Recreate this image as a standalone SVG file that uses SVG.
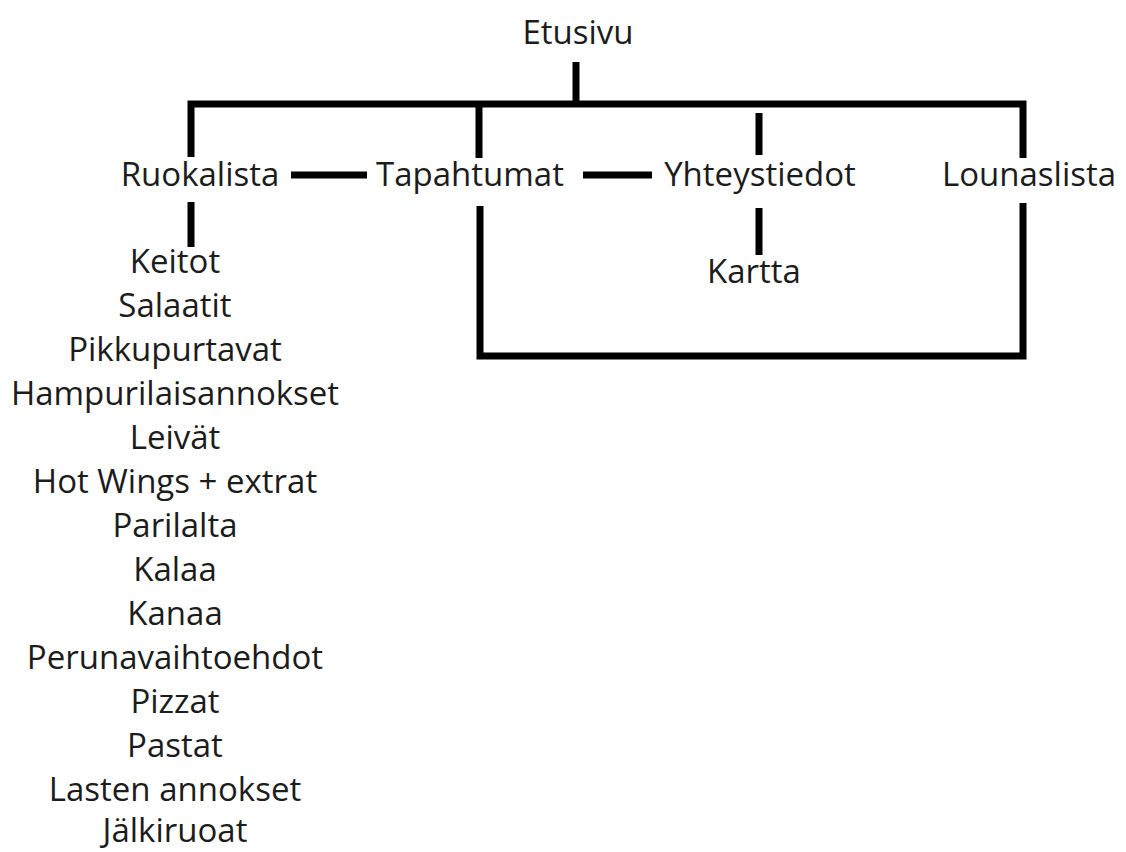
<svg xmlns="http://www.w3.org/2000/svg" width="1126" height="852" viewBox="0 0 1126 852">
<style>
text{font-family:"Open Sans","Noto Sans","Liberation Sans",sans-serif;font-size:33px;fill:#1c1c1c;text-anchor:middle}
.c{stroke:#000;stroke-width:7;fill:none;stroke-linecap:butt;stroke-linejoin:miter}
</style>
<rect width="1126" height="852" fill="#fff"/>
<g id="connectors">
<path class="c" d="M576 62V104"/>
<path class="c" d="M191 157V104H1023V158"/>
<path class="c" d="M479 104V158"/>
<path class="c" d="M759 113V155"/>
<path class="c" d="M291 175H367"/>
<path class="c" d="M583 175H652"/>
<path class="c" d="M191 202V247"/>
<path class="c" d="M759 208V255"/>
<path class="c" d="M480 206V356H1023V203"/>
</g>
<g id="etusivu"><text x="578" y="44">Etusivu</text></g>
<g id="ruokalista"><text x="200" y="186">Ruokalista</text></g>
<g id="tapahtumat"><text x="470" y="186">Tapahtumat</text></g>
<g id="yhteystiedot"><text x="760" y="186">Yhteystiedot</text></g>
<g id="lounaslista"><text x="1029" y="186">Lounaslista</text></g>
<g id="kartta"><text x="754" y="283">Kartta</text></g>
<g id="menu-list">
<text x="175" y="273">Keitot</text>
<text x="175" y="317">Salaatit</text>
<text x="175" y="361">Pikkupurtavat</text>
<text x="175" y="405">Hampurilaisannokset</text>
<text x="175" y="449">Leivät</text>
<text x="175" y="493">Hot Wings + extrat</text>
<text x="175" y="537">Parilalta</text>
<text x="175" y="581">Kalaa</text>
<text x="175" y="625">Kanaa</text>
<text x="175" y="669">Perunavaihtoehdot</text>
<text x="175" y="713">Pizzat</text>
<text x="175" y="757">Pastat</text>
<text x="175" y="801">Lasten annokset</text>
<text x="175" y="842">Jälkiruoat</text>
</g>
</svg>
